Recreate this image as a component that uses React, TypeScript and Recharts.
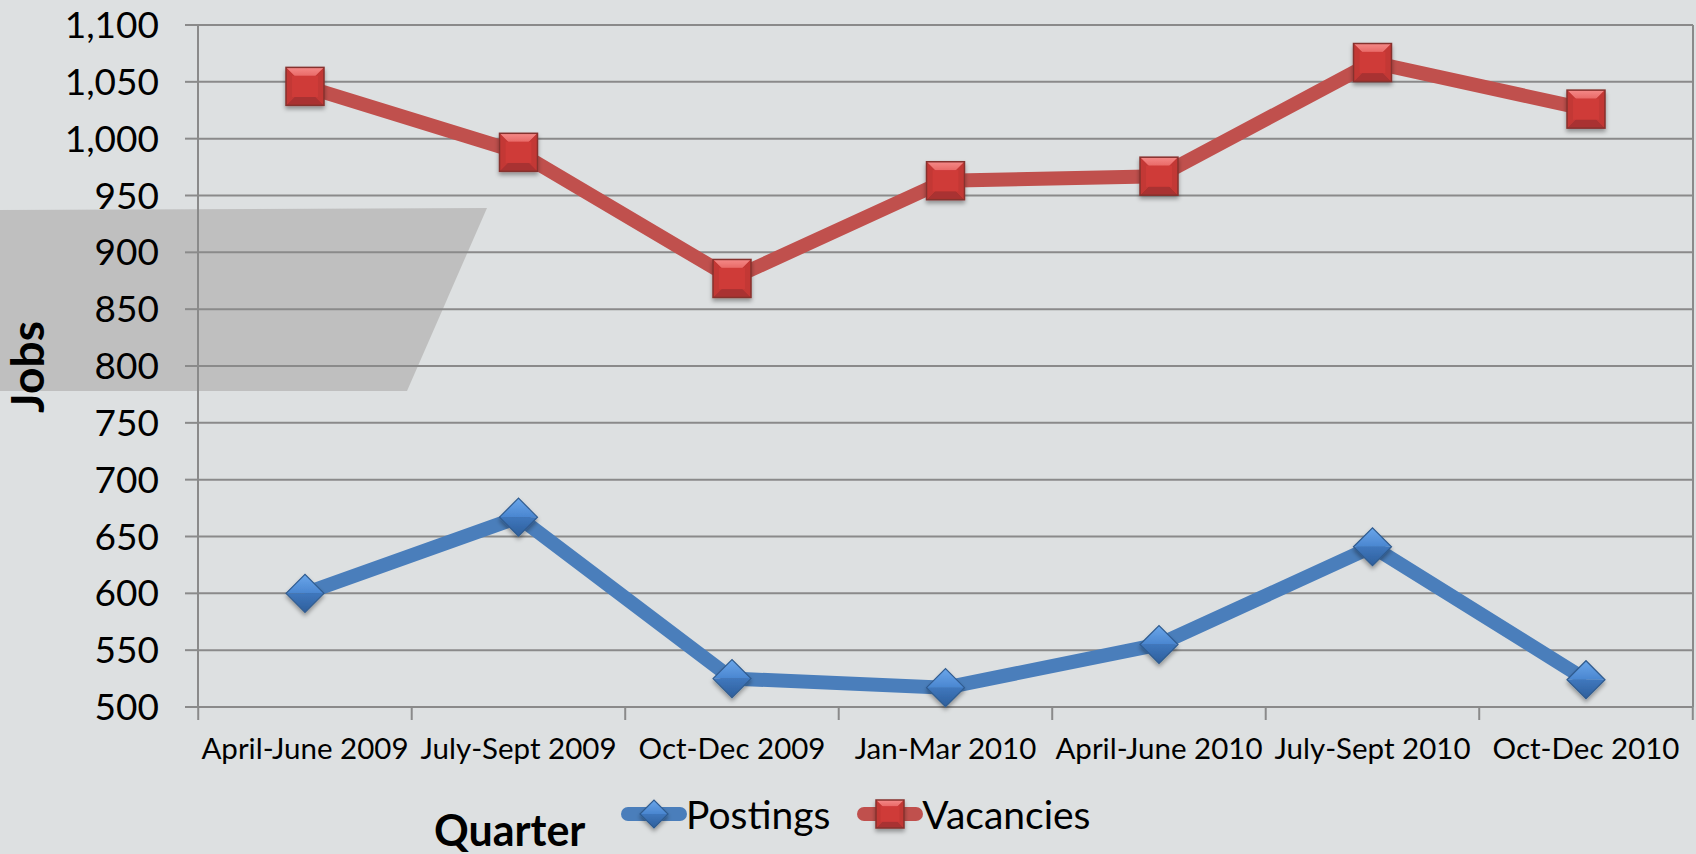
import { LineChart, Line, XAxis, YAxis, CartesianGrid } from 'recharts'

// quarters on the x axis
const quarters = [
    'April-June 2009',
    'July-Sept 2009',
    'Oct-Dec 2009',
    'Jan-Mar 2010',
    'April-June 2010',
    'July-Sept 2010',
    'Oct-Dec 2010',
]
const postings = [600, 667, 525, 517, 555, 641, 524]
const vacancies = [1046, 988, 877, 963, 967, 1067, 1026]
const yTicks = [500, 550, 600, 650, 700, 750, 800, 850, 900, 950, 1000, 1050, 1100]

const data = quarters.map((q, i) => ({ quarter: q, postings: postings[i], vacancies: vacancies[i] }))

const FONT = 'Lato, "Open Sans", sans-serif'
const GRID = '#8a8a8a'
const RED = '#c0504d'
const BLUE = '#4a7ebb'
const LABEL_GAP = 31

const SquareMark = ({ cx, cy, size }: { cx: number; cy: number; size: number }) => {
    const h = size / 2
    const l = cx - h, r = cx + h, t = cy - h, b = cy + h
    return (
        <g filter="url(#markShadow)">
            <rect x={l} y={t} width={size} height={size} fill="#cc3a38" />
            <polygon points={`${l},${t} ${r},${t} ${cx},${cy}`} fill="url(#redTop)" />
            <polygon points={`${l},${b} ${r},${b} ${cx},${cy}`} fill="#a93230" />
            <polygon points={`${l},${t} ${l},${b} ${cx},${cy}`} fill="#c33835" />
            <polygon points={`${r},${t} ${r},${b} ${cx},${cy}`} fill="#c33835" />
            <rect x={l + size * 0.16} y={t + size * 0.22} width={size * 0.68} height={size * 0.56} fill="#cf3b39" />
            <rect x={l} y={t} width={size} height={size} fill="none" stroke="#86302e" strokeWidth={1.5} />
        </g>
    )
}

const DiamondMark = ({ cx, cy, size }: { cx: number; cy: number; size: number }) => {
    const h = size / 2
    return (
        <g filter="url(#markShadow)">
            <polygon points={`${cx - h},${cy} ${cx},${cy - h} ${cx + h},${cy}`} fill="url(#blueTop)" />
            <polygon points={`${cx - h},${cy} ${cx},${cy + h} ${cx + h},${cy}`} fill="url(#blueBottom)" />
            <polygon
                points={`${cx - h},${cy} ${cx},${cy - h} ${cx + h},${cy} ${cx},${cy + h}`}
                fill="none"
                stroke="#2f5b8f"
                strokeWidth={1.2}
            />
        </g>
    )
}

const MarkDefs = () => (
    <defs>
        <linearGradient id="redTop" x1="0" y1="0" x2="0" y2="1">
            <stop offset="0%" stopColor="#f58a88" />
            <stop offset="100%" stopColor="#d9423f" />
        </linearGradient>
        <linearGradient id="blueTop" x1="0" y1="0" x2="0" y2="1">
            <stop offset="0%" stopColor="#6aa6ea" />
            <stop offset="100%" stopColor="#4a86d0" />
        </linearGradient>
        <linearGradient id="blueBottom" x1="0" y1="0" x2="0" y2="1">
            <stop offset="0%" stopColor="#3f77bd" />
            <stop offset="100%" stopColor="#2e5f9c" />
        </linearGradient>
        <filter id="markShadow" x="-30%" y="-30%" width="160%" height="170%">
            <feDropShadow dx={0} dy={3} stdDeviation={2} floodColor="#000" floodOpacity={0.35} />
        </filter>
    </defs>
)

// category label plus Excel-style tick marks between categories
const QuarterTick = (props: any) => {
    const { x, y, payload, width, visibleTicksCount } = props
    const step = width / (visibleTicksCount || quarters.length)
    const axisY = y - LABEL_GAP
    const left = x - step / 2
    const isLast = payload.index === quarters.length - 1
    return (
        <g>
            <line x1={left} y1={axisY} x2={left} y2={axisY + 13} stroke={GRID} strokeWidth={2} />
            {isLast && <line x1={left + step} y1={axisY} x2={left + step} y2={axisY + 13} stroke={GRID} strokeWidth={2} />}
            <text x={x} y={y} dy="0.71em" textAnchor="middle" fill="#000" fontSize={29.5} fontFamily={FONT}>
                {payload.value}
            </text>
        </g>
    )
}

const legendItems = [
    { name: 'Postings', color: BLUE, shape: 'diamond' },
    { name: 'Vacancies', color: RED, shape: 'square' },
]

const ChartLegend = () => (
    <div
        style={{
            position: 'absolute',
            left: 614,
            top: 794,
            display: 'flex',
            alignItems: 'center',
            fontFamily: FONT,
            fontSize: 39,
            color: '#000',
        }}
    >
        {legendItems.map((item, index) => (
            <div key={index} style={{ display: 'flex', alignItems: 'center', marginRight: index === 0 ? 20 : 0 }}>
                <svg width={72} height={40} style={{ overflow: 'visible' }}>
                    <line x1={14} y1={20} x2={66} y2={20} stroke={item.color} strokeWidth={14} strokeLinecap="round" />
                    {item.shape === 'diamond'
                        ? <DiamondMark cx={40} cy={20} size={28} />
                        : <SquareMark cx={40} cy={20} size={28} />}
                </svg>
                <span style={{ lineHeight: '40px' }}>{item.name}</span>
            </div>
        ))}
    </div>
)

const App = () => {
    return (
        <div style={{ position: 'absolute', left: 0, top: 0, width: 1696, height: 854, background: '#dde0e1', overflow: 'hidden' }}>
            {/* backdrop shape and axis titles */}
            <svg width={1696} height={854} style={{ position: 'absolute', left: 0, top: 0 }}>
                <MarkDefs />
                <polygon points="0,210 487,208 407,391 0,391" fill="#bfbfbf" />
                <text
                    x={0}
                    y={0}
                    transform="translate(44,367) rotate(-90)"
                    textAnchor="middle"
                    fontFamily={FONT}
                    fontWeight="bold"
                    fontSize={46}
                    fill="#000"
                >
                    Jobs
                </text>
                <text x={434} y={846} fontFamily={FONT} fontWeight="bold" fontSize={43} fill="#000">
                    Quarter
                </text>
            </svg>
            <div style={{ position: 'absolute', left: 0, top: 0 }}>
                <LineChart width={1696} height={854} data={data} margin={{ top: 25, right: 3, left: 0, bottom: 87 }}>
                    <CartesianGrid
                        stroke={GRID}
                        strokeWidth={2}
                        verticalCoordinatesGenerator={({ offset }: any) => [offset.left + offset.width]}
                    />
                    <XAxis
                        dataKey="quarter"
                        height={60}
                        interval={0}
                        padding={{ left: 107, right: 107 }}
                        axisLine={{ stroke: GRID, strokeWidth: 2 }}
                        tickLine={false}
                        tickSize={0}
                        tickMargin={LABEL_GAP}
                        tick={<QuarterTick />}
                    />
                    <YAxis
                        domain={[500, 1100]}
                        ticks={yTicks}
                        width={198}
                        tickSize={13}
                        tickMargin={26}
                        axisLine={{ stroke: GRID, strokeWidth: 2 }}
                        tickLine={{ stroke: GRID, strokeWidth: 2 }}
                        tick={{ fill: '#000', fontSize: 37, fontFamily: FONT }}
                        tickFormatter={(v: number) => v.toLocaleString('en-US')}
                    />
                    <Line
                        dataKey="postings"
                        name="Postings"
                        stroke={BLUE}
                        strokeWidth={14}
                        isAnimationActive={false}
                        dot={(p: any) => <DiamondMark key={`p-${p.index}`} cx={p.cx} cy={p.cy} size={38} />}
                    />
                    <Line
                        dataKey="vacancies"
                        name="Vacancies"
                        stroke={RED}
                        strokeWidth={14}
                        isAnimationActive={false}
                        dot={(p: any) => <SquareMark key={`v-${p.index}`} cx={p.cx} cy={p.cy} size={38} />}
                    />
                </LineChart>
            </div>
            <ChartLegend />
        </div>
    )
}

export default App
